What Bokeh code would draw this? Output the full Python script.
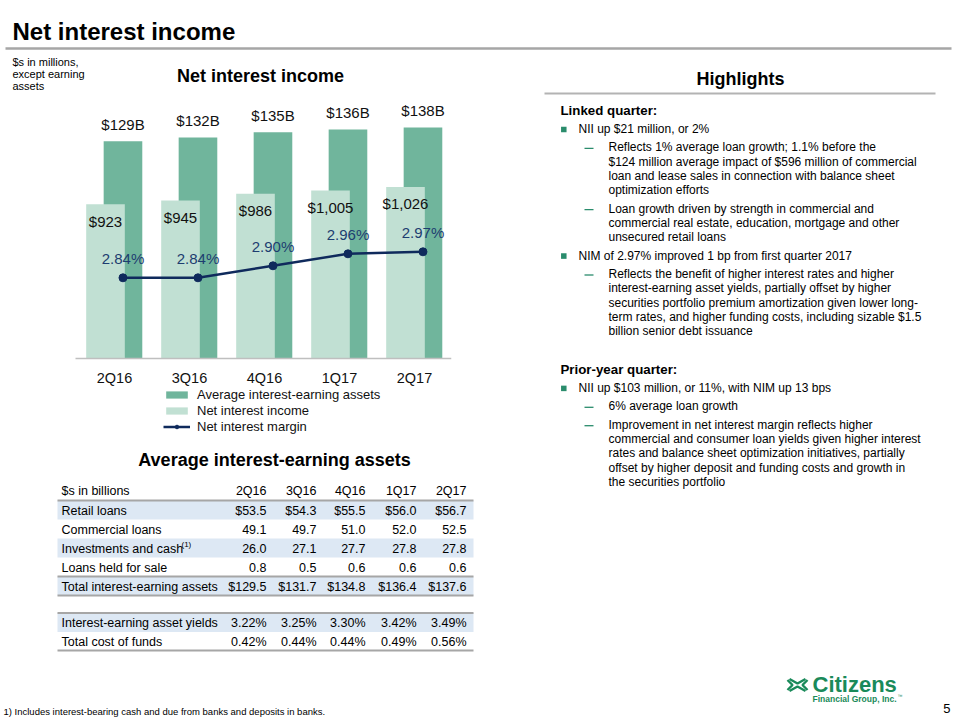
from bokeh.plotting import figure
from bokeh.models import Range1d, ColumnDataSource, Legend, LegendItem
from bokeh.transform import dodge
from bokeh.embed import file_html
from bokeh.resources import INLINE
from bokeh.core.properties import value

# ---------------- data ----------------
quarters = ["2Q16", "3Q16", "4Q16", "1Q17", "2Q17"]
earning_assets = [129.5, 131.7, 134.8, 136.4, 137.6]          # $B
asset_labels = ["$129B", "$132B", "$135B", "$136B", "$138B"]
net_interest_income = [923, 945, 986, 1005, 1026]              # $M
net_interest_margin = [2.84, 2.84, 2.90, 2.96, 2.97]           # %

retail_loans = [53.5, 54.3, 55.5, 56.0, 56.7]
commercial_loans = [49.1, 49.7, 51.0, 52.0, 52.5]
investments_cash = [26.0, 27.1, 27.7, 27.8, 27.8]
loans_held_for_sale = [0.8, 0.5, 0.6, 0.6, 0.6]
total_earning_assets = [129.5, 131.7, 134.8, 136.4, 137.6]
asset_yields = [3.22, 3.25, 3.30, 3.42, 3.49]
cost_of_funds = [0.42, 0.44, 0.44, 0.49, 0.56]

# ---------------- style ----------------
FONT = "Liberation Sans"
DARK = "#70b59c"
LIGHT = "#c1e0d3"
NAVY = "#0f2a5c"
TEAL = "#2a8c6c"
GREY = "#a6a6a6"
BLUE_ROW = "#dde8f4"
LOGO_GREEN = "#1a8a5a"

W, H = 960, 720
PX0, PX1, PY_BOT, PY_TOP = 0, 960, 720, 0   # page coordinates of the frame

p = figure(width=W, height=H, x_range=Range1d(PX0, PX1), y_range=Range1d(PY_BOT, PY_TOP),
           output_backend="svg", toolbar_location=None, min_border=0,
           x_axis_location=None, y_axis_location=None)
p.grid.visible = False
p.outline_line_color = None
p.background_fill_color = "white"

# chart scales placed in the left panel
cat0, cat_step = 114.0, 75.0
base_y = 358.0


def lin_range(v_at, y_at, px_per_unit):
    return Range1d(v_at - (PY_BOT - y_at) / px_per_unit, v_at + (y_at - PY_TOP) / px_per_unit)


p.extra_x_ranges = {"q": Range1d((PX0 - cat0) / cat_step, (PX1 - cat0) / cat_step)}
p.extra_y_ranges = {
    "assets": lin_range(0, base_y, 1.678),
    "nii": lin_range(0, base_y, 0.1672),
    "nim": lin_range(2.84, 277.3, 200.0),
}

src = ColumnDataSource(dict(
    i=list(range(len(quarters))), q=quarters,
    assets=earning_assets, asset_lbl=asset_labels,
    nii=net_interest_income, nii_lbl=[f"${v:,}" for v in net_interest_income],
    nim=net_interest_margin, nim_lbl=[f"{v:.2f}%" for v in net_interest_margin],
))

DX_DARK, DX_LIGHT, BW = 0.113, -0.12, 0.515

dark_r = p.vbar(x=dodge("i", DX_DARK), top="assets", bottom=0, width=BW, source=src,
                fill_color=DARK, line_color=None, x_range_name="q", y_range_name="assets")
light_r = p.vbar(x=dodge("i", DX_LIGHT), top="nii", bottom=0, width=BW, source=src,
                 fill_color=LIGHT, line_color=None, x_range_name="q", y_range_name="nii")
line_r = p.line(x=dodge("i", DX_DARK), y="nim", source=src, line_color=NAVY, line_width=2.5,
                x_range_name="q", y_range_name="nim")
dot_r = p.scatter(x=dodge("i", DX_DARK), y="nim", source=src, size=8, fill_color=NAVY,
                  line_color=NAVY, x_range_name="q", y_range_name="nim")

# baseline
p.segment(x0=[-0.52], y0=[0], x1=[len(quarters) - 1 + 0.49], y1=[0], line_color="#bfbfbf",
          line_width=1.5, x_range_name="q", y_range_name="assets")

lbl = dict(text_font=value(FONT), text_font_size="15px", text_align="center", text_baseline="middle")
p.text(x=dodge("i", DX_DARK), y="assets", text="asset_lbl", source=src, y_offset=-17,
       text_color="#111111", x_range_name="q", y_range_name="assets", **lbl)
p.text(x=dodge("i", DX_LIGHT), y="nii", text="nii_lbl", source=src, y_offset=17,
       text_color="#111111", x_range_name="q", y_range_name="nii", **lbl)
p.text(x=dodge("i", DX_DARK), y="nim", text="nim_lbl", source=src, y_offset=-19,
       text_color="#1d3d70", x_range_name="q", y_range_name="nim", **lbl)
p.text(x="i", y=0, text="q", source=src, y_offset=19, text_color="#111111",
       x_range_name="q", y_range_name="assets",
       text_font=value(FONT), text_font_size="14.5px", text_align="center", text_baseline="middle")

legend = Legend(items=[
    LegendItem(label="Average interest-earning assets", renderers=[dark_r]),
    LegendItem(label="Net interest income", renderers=[light_r]),
    LegendItem(label="Net interest margin", renderers=[line_r, dot_r]),
], location=(163, 286), border_line_color=None, background_fill_alpha=0, padding=0, margin=0,
    spacing=1, glyph_width=27, glyph_height=9, label_height=14, label_standoff=7,
    label_text_font=FONT, label_text_font_size="13px", label_text_color="#111111")
p.add_layout(legend)


# ---------------- text helpers ----------------
def txt(x, y, s, size, bold=False, color="#000000", align="left"):
    p.text(x=[x], y=[y], text=[s], text_font=value(FONT), text_font_size=f"{size}px",
           text_font_style="bold" if bold else "normal", text_color=color,
           text_align=align, text_baseline="middle")


# header
txt(12, 31, "Net interest income", 24, bold=True)
p.segment(x0=[5], y0=[48], x1=[951], y1=[48], line_color=GREY, line_width=2.5)
for k, s in enumerate(["$s in millions,", "except earning", "assets"]):
    txt(12, 61 + 12.3 * k, s, 11)
txt(260, 75, "Net interest income", 18, bold=True, align="center")
txt(740, 78, "Highlights", 18, bold=True, align="center")
p.segment(x0=[544], y0=[93], x1=[935], y1=[93], line_color="#b3b3b3", line_width=2)

# highlights body
LINE = 14.3
STEP = 18.4
content = [
    ("h", 110, ["Linked quarter:"]),
    ("b", None, ["NII up $21 million, or 2%"]),
    ("d", None, ["Reflects 1% average loan growth; 1.1% before the",
                 "$124 million average impact of $596 million of commercial",
                 "loan and lease sales in connection with balance sheet",
                 "optimization efforts"]),
    ("d", None, ["Loan growth driven by strength in commercial and",
                 "commercial real estate, education, mortgage and other",
                 "unsecured retail loans"]),
    ("b", None, ["NIM of 2.97% improved 1 bp from first quarter 2017"]),
    ("d", None, ["Reflects the benefit of higher interest rates and higher",
                 "interest-earning asset yields, partially offset by higher",
                 "securities portfolio premium amortization given lower long-",
                 "term rates, and higher funding costs, including sizable $1.5",
                 "billion senior debt issuance"]),
    ("h", 369, ["Prior-year quarter:"]),
    ("b", None, ["NII up $103 million, or 11%, with NIM up 13 bps"]),
    ("d", None, ["6% average loan growth"]),
    ("d", None, ["Improvement in net interest margin reflects higher",
                 "commercial and consumer loan yields given higher interest",
                 "rates and balance sheet optimization initiatives, partially",
                 "offset by higher deposit and funding costs and growth in",
                 "the securities portfolio"]),
]
y = 0
for kind, y0, lines in content:
    if y0 is not None:
        y = y0
    if kind == "h":
        txt(560, y, lines[0], 13.3, bold=True)
    elif kind == "b":
        p.rect(x=[563.3], y=[y + 0.5], width=5.5, height=5.5, fill_color=TEAL, line_color=None)
        txt(578, y, lines[0], 12)
    else:
        p.segment(x0=[584], y0=[y + 1], x1=[593], y1=[y + 1], line_color=TEAL, line_width=1.3)
        for k, s in enumerate(lines):
            txt(608, y + LINE * k, s, 12)
    y = y + LINE * (len(lines) - 1) + STEP

# ---------------- table ----------------
txt(274, 459, "Average interest-earning assets", 18, bold=True, align="center")
TX0, TX1 = 57, 473
col_right = [266, 316, 365, 416, 466]
TS = 12.5


def row_bg(top, bot):
    p.quad(left=[TX0], right=[TX1], top=[top], bottom=[bot], fill_color=BLUE_ROW, line_color=None)


for top, bot in [(500, 519), (538, 557), (576, 595), (612.5, 631.5)]:
    row_bg(top, bot)
for yy in [500, 576, 595, 612.5, 650]:
    p.segment(x0=[TX0], y0=[yy], x1=[TX1], y1=[yy], line_color=GREY, line_width=2)

txt(61, 490, "$s in billions", TS)
for xr, qn in zip(col_right, quarters):
    txt(xr, 490, qn, TS, align="right")

rows = [
    ("Retail loans", [f"${v:.1f}" for v in retail_loans], 510),
    ("Commercial loans", [f"{v:.1f}" for v in commercial_loans], 529),
    ("Investments and cash", [f"{v:.1f}" for v in investments_cash], 548),
    ("Loans held for sale", [f"{v:.1f}" for v in loans_held_for_sale], 567),
    ("Total interest-earning assets", [f"${v:.1f}" for v in total_earning_assets], 586),
    ("Interest-earning asset yields", [f"{v:.2f}%" for v in asset_yields], 622.5),
    ("Total cost of funds", [f"{v:.2f}%" for v in cost_of_funds], 641),
]
for label, vals, yy in rows:
    txt(61, yy, label, TS)
    for xr, v in zip(col_right, vals):
        txt(xr, yy, v, TS, align="right")
txt(181, 544, "(1)", 8)

# ---------------- footer ----------------
txt(3, 711, "1) Includes interest-bearing cash and due from banks and deposits in banks.", 9.5)
txt(950, 708, "5", 13, align="right")
txt(812, 684, "Citizens", 22, bold=True, color=LOGO_GREEN)
txt(812, 698.5, "Financial Group, Inc.", 8.5, bold=True, color=LOGO_GREEN)
txt(897, 695, "\u2122", 5, color=LOGO_GREEN)
# logo mark (chevrons)
p.multi_line(xs=[[789, 797, 805], [789, 797, 805], [787, 792, 787], [807, 802, 807]],
             ys=[[678.5, 683, 678.5], [690.5, 686, 690.5], [679.5, 684.5, 689.5], [679.5, 684.5, 689.5]],
             line_color=LOGO_GREEN, line_width=2.4)

open("out.html", "w").write(file_html(p, INLINE))
